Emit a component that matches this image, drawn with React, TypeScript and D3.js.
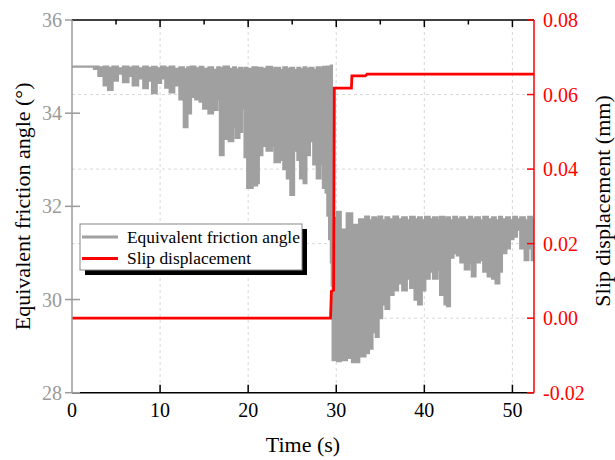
import React from 'react';
import * as d3 from 'd3';

// Equivalent friction angle: band of the oscillating signal (time, upper, lower)
const angleTime = [0, 2.5, 3.0, 3.6, 4.1, 4.6, 5.2, 5.8, 6.4, 6.9, 7.5, 8.1, 8.6, 9.1, 9.6, 10.1, 10.6, 11.1, 11.6, 12.2, 12.7, 13.1, 13.5, 14.0, 14.5, 14.9, 15.5, 16.0, 16.5, 16.8, 17.2, 17.8, 18.3, 18.6, 19.0, 19.3, 19.6, 19.9, 20.5, 21.0, 21.2, 21.6, 22.1, 22.7, 23.0, 23.6, 24.0, 24.4, 24.8, 25.2, 25.6, 25.9, 26.3, 26.6, 27.0, 27.4, 27.8, 28.2, 28.5, 28.8, 29.0, 29.2, 29.4, 29.5, 29.6, 30.1, 30.5, 31.2, 31.8, 32.6, 33.3, 33.7, 34.1, 34.5, 34.8, 35.2, 35.6, 36.0, 36.5, 37.0, 37.5, 38.0, 38.4, 38.9, 39.3, 39.7, 40.1, 40.6, 41.0, 41.5, 41.8, 42.3, 42.6, 42.9, 43.3, 43.7, 44.1, 44.6, 45.1, 45.4, 45.8, 46.3, 46.7, 47.2, 47.7, 48.1, 48.5, 48.8, 49.3, 49.7, 50.1, 50.5, 50.9, 51.4, 51.8, 52.2, 52.45];
const angleUpper = [35.0, 35.0, 34.98, 35.0, 34.97, 35.0, 34.96, 35.0, 34.97, 35.0, 34.96, 35.0, 34.97, 34.99, 34.96, 35.0, 34.97, 35.0, 34.95, 34.98, 34.94, 34.98, 35.0, 34.96, 34.99, 34.95, 34.98, 34.93, 34.98, 34.96, 35.0, 34.95, 34.98, 34.94, 34.97, 34.92, 34.97, 34.95, 34.98, 34.93, 34.97, 34.95, 34.99, 34.94, 34.97, 34.93, 34.98, 34.95, 34.97, 34.92, 34.97, 34.94, 34.98, 34.95, 34.97, 34.93, 34.98, 34.95, 34.99, 34.96, 35.0, 34.97, 35.02, 33.5, 31.75, 31.88, 31.5, 31.85, 31.6, 31.72, 31.78, 31.7, 31.76, 31.72, 31.78, 31.7, 31.76, 31.72, 31.78, 31.72, 31.76, 31.7, 31.77, 31.72, 31.76, 31.7, 31.77, 31.72, 31.76, 31.7, 31.77, 31.72, 31.76, 31.7, 31.77, 31.72, 31.76, 31.71, 31.77, 31.72, 31.76, 31.7, 31.77, 31.72, 31.76, 31.7, 31.77, 31.72, 31.76, 31.7, 31.77, 31.72, 31.76, 31.7, 31.77, 31.72, 31.72];
const angleLower = [35.0, 34.95, 34.8, 34.6, 34.5, 34.7, 34.85, 34.67, 34.8, 34.6, 34.75, 34.54, 34.7, 34.43, 34.65, 34.75, 34.55, 34.45, 34.6, 34.3, 33.7, 34.0, 34.35, 34.3, 34.25, 34.1, 34.0, 34.07, 34.3, 33.1, 33.45, 33.4, 33.7, 33.47, 33.6, 34.1, 33.06, 32.4, 32.45, 32.5, 33.1, 33.3, 33.2, 33.3, 32.95, 33.0, 32.8, 32.6, 32.25, 33.2, 33.0, 32.6, 32.5, 33.1, 33.4, 32.9, 32.6, 32.9, 32.4, 32.3, 31.8, 31.3, 30.8, 30.3, 28.7, 28.68, 28.7, 28.75, 28.66, 28.78, 28.85, 28.95, 29.3, 29.2, 29.6, 29.9, 29.8, 30.1, 30.2, 30.35, 30.2, 30.45, 30.25, 30.0, 29.9, 30.2, 30.45, 30.6, 30.45, 30.65, 30.1, 29.9, 29.86, 30.9, 31.0, 30.95, 30.8, 30.65, 30.8, 30.5, 30.8, 30.85, 30.6, 30.5, 30.45, 30.35, 30.6, 31.0, 31.1, 31.3, 31.35, 31.5, 31.1, 30.85, 31.1, 30.85, 30.9];

// Slip displacement (mm)
const slipTime = [0, 29.35, 29.45, 29.7, 29.78, 31.72, 31.78, 33.3, 33.5, 52.45];
const slipValue = [0, 0, 0.0072, 0.0075, 0.0617, 0.0617, 0.065, 0.065, 0.0655, 0.0655];

const xTicks = [0, 10, 20, 30, 40, 50];
const xMinorTicks = [5, 15, 25, 35, 45];
const leftTicks = [28, 30, 32, 34, 36];
const rightTicks = [-0.02, 0, 0.02, 0.04, 0.06, 0.08];
const rightTickLabels = ['-0.02', '0.00', '0.02', '0.04', '0.06', '0.08'];
const legendLabels = ['Equivalent friction angle', 'Slip displacement'];

const FONT = '"Liberation Serif", "Times New Roman", serif';
const GRAY = '#a0a0a0';
const AXGRAY = '#9a9a9a';
const RED = '#ff0000';

export default function App() {
  const W = 615, H = 460;
  const L = 72, R = 534, T = 20, B = 392.7;
  const x = d3.scaleLinear().domain([0, 52.45]).range([L, R]);
  const yL = d3.scaleLinear().domain([28, 36]).range([B, T]);
  const yR = d3.scaleLinear().domain([-0.02, 0.08]).range([B, T]);

  const band = angleTime.map((t, i) => ({ t, up: angleUpper[i], lo: angleLower[i] }));
  const area = d3.area<any>()
    .x(d => x(d.t))
    .y0(d => yL(d.lo))
    .y1(d => yL(d.up))
    .curve(d3.curveStepAfter);
  const slip = slipTime.map((t, i) => ({ t, v: slipValue[i] }));
  const line = d3.line<any>().x(d => x(d.t)).y(d => yR(d.v));

  return (
    <svg width={W} height={H} style={{ position: 'absolute', left: 0, top: 0, background: '#fff' }} fontFamily={FONT}>
      <defs>
        <clipPath id="plotclip">
          <rect x={L} y={T - 2} width={R - L} height={B - T + 4} />
        </clipPath>
      </defs>
      {/* grid */}
      {xTicks.filter(v => v > 0).map(v => (
        <line key={'gx' + v} x1={x(v)} x2={x(v)} y1={T} y2={B} stroke="#d4d4d4" strokeWidth={0.9} strokeDasharray="3,3" />
      ))}
      {rightTicks.filter(v => v > -0.02 && v < 0.08).map(v => (
        <line key={'gy' + v} x1={L} x2={R} y1={yR(v)} y2={yR(v)} stroke="#d4d4d4" strokeWidth={0.9} strokeDasharray="3,3" />
      ))}
      <g clipPath="url(#plotclip)">
        <path d={area(band) || ''} fill={GRAY} stroke={GRAY} strokeWidth={2.4} strokeLinejoin="miter" />
        <path d={line(slip) || ''} fill="none" stroke={RED} strokeWidth={2.8} />
      </g>
      {/* bottom axis */}
      <line x1={L} x2={R} y1={B} y2={B} stroke="#000" strokeWidth={1.5} />
      {xTicks.filter(v => v > 0).map(v => (
        <line key={'bt' + v} x1={x(v)} x2={x(v)} y1={B} y2={B - 8} stroke="#000" strokeWidth={1.5} />
      ))}
      {xTicks.map(v => (
        <text key={'bl' + v} x={x(v)} y={417} fontSize={20} textAnchor="middle" fill="#000">{v}</text>
      ))}
      {/* top axis */}
      <line x1={L} x2={R} y1={T} y2={T} stroke="#000" strokeWidth={1.5} />
      {xTicks.filter(v => v > 0).map(v => (
        <line key={'tt' + v} x1={x(v)} x2={x(v)} y1={T} y2={T + 7} stroke="#000" strokeWidth={1.5} />
      ))}
      {xMinorTicks.map(v => (
        <line key={'tm' + v} x1={x(v)} x2={x(v)} y1={T} y2={T + 4.5} stroke="#000" strokeWidth={1.5} />
      ))}
      {/* left axis */}
      <line x1={L} x2={L} y1={T} y2={B} stroke={AXGRAY} strokeWidth={1.5} />
      {leftTicks.map(v => (
        <line key={'lt' + v} x1={L - 7} x2={v === 36 ? L : L + 8} y1={yL(v)} y2={yL(v)} stroke={AXGRAY} strokeWidth={1.5} />
      ))}
      {leftTicks.map(v => (
        <text key={'ll' + v} x={62} y={yL(v) + 7} fontSize={20} textAnchor="end" fill={AXGRAY}>{v}</text>
      ))}
      {/* right axis */}
      <line x1={R} x2={R} y1={T} y2={B} stroke={RED} strokeWidth={1.5} />
      {rightTicks.map(v => (
        <line key={'rt' + v} x1={R - 7} x2={R} y1={yR(v)} y2={yR(v)} stroke={RED} strokeWidth={1.5} />
      ))}
      {rightTicks.map((v, i) => (
        <text key={'rl' + v} x={543} y={yR(v) + 7} fontSize={20} textAnchor="start" fill={RED}>{rightTickLabels[i]}</text>
      ))}
      {/* axis titles */}
      <text x={(L + R) / 2} y={452} fontSize={22} textAnchor="middle" fill="#000">Time (s)</text>
      <text transform={`translate(30,${(T + B) / 2}) rotate(-90)`} fontSize={22} textAnchor="middle" fill="#000">Equivalent friction angle (°)</text>
      <text transform={`translate(610,201) rotate(-90)`} fontSize={22} textAnchor="middle" fill="#000">Slip displacement (mm)</text>
      {/* legend */}
      <rect x={85} y={229} width={222} height={46} fill="#000" />
      <rect x={80} y={224} width={222} height={46} fill="#fff" stroke="#888" strokeWidth={1} />
      <line x1={82} x2={118} y1={237} y2={237} stroke={GRAY} strokeWidth={2.8} />
      <line x1={82} x2={118} y1={258.5} y2={258.5} stroke={RED} strokeWidth={2.8} />
      <text x={127} y={242.7} fontSize={17.4} fill="#000">{legendLabels[0]}</text>
      <text x={127} y={264.3} fontSize={17.4} fill="#000">{legendLabels[1]}</text>
    </svg>
  );
}
